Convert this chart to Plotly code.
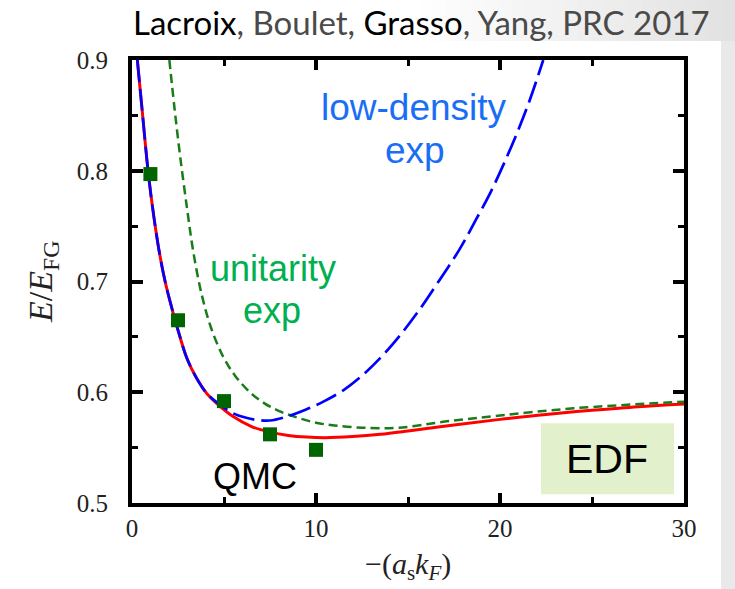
import plotly.graph_objects as go

# ---------------- data ----------------
qmc_x = [1.0, 2.5, 5.0, 7.5, 10.0]
qmc_y = [0.797, 0.665, 0.592, 0.562, 0.548]

edf_x = [0.29, 0.55, 0.89, 1.2, 1.5, 1.8, 2.1, 2.5, 3.0, 3.5, 4.06, 4.6, 5.5, 6.5, 7.5,
         8.5, 9.5, 10.5, 12.0, 13.5, 15.0, 17.5, 20.0, 22.5, 25.0, 27.5, 30.0]
edf_y = [0.900, 0.855, 0.797, 0.757, 0.725, 0.700, 0.680, 0.656, 0.630, 0.613, 0.599, 0.590,
         0.578, 0.569, 0.564, 0.561, 0.5595, 0.559, 0.560, 0.562, 0.565, 0.5705, 0.5755,
         0.580, 0.5837, 0.587, 0.5895]

low_x = [0.29, 0.55, 0.89, 1.2, 1.5, 1.8, 2.1, 2.5, 3.0, 3.5, 4.06, 4.6, 5.5, 6.2, 6.8,
         7.5, 8.4, 9.4, 10.4, 11.5, 12.5, 13.5, 14.5, 15.6, 16.7, 17.8, 18.7, 19.5, 20.2,
         20.9, 21.6, 22.35]
low_y = [0.900, 0.855, 0.797, 0.757, 0.725, 0.700, 0.680, 0.656, 0.630, 0.613, 0.599, 0.591,
         0.581, 0.577, 0.575, 0.5745, 0.578, 0.584, 0.5915, 0.602, 0.615, 0.631, 0.650,
         0.674, 0.701, 0.729, 0.756, 0.781, 0.806, 0.833, 0.863, 0.900]

uni_x = [2.03, 2.3, 2.61, 3.0, 3.33, 3.79, 4.3, 4.96, 5.6, 6.41, 7.2, 8.0, 9.0, 10.0, 11.0,
         12.5, 14.5, 17.0, 20.0, 24.0, 30.0]
uni_y = [0.900, 0.858, 0.814, 0.765, 0.727, 0.688, 0.658, 0.632, 0.615, 0.600, 0.590, 0.583,
         0.577, 0.5725, 0.570, 0.568, 0.568, 0.5735, 0.579, 0.5855, 0.5915]

x_ticks = [0, 10, 20, 30]
y_ticks = [0.5, 0.6, 0.7, 0.8, 0.9]
y_tick_labels = ["0.5", "0.6", "0.7", "0.8", "0.9"]

# ---------------- figure ----------------
fig = go.Figure()

fig.add_trace(go.Scatter(x=edf_x, y=edf_y, mode="lines",
                         line=dict(color="#ff0000", width=3, shape="spline", smoothing=1),
                         showlegend=False, hoverinfo="skip"))
fig.add_trace(go.Scatter(x=uni_x, y=uni_y, mode="lines",
                         line=dict(color="#187c18", width=2.5, dash="9px,5px",
                                   shape="spline", smoothing=1),
                         showlegend=False, hoverinfo="skip"))
fig.add_trace(go.Scatter(x=low_x, y=low_y, mode="lines",
                         line=dict(color="#0000ff", width=2.7, dash="22px,7px",
                                   shape="spline", smoothing=1),
                         showlegend=False, hoverinfo="skip"))
fig.add_trace(go.Scatter(x=qmc_x, y=qmc_y, mode="markers",
                         marker=dict(symbol="square", size=14, color="#006400",
                                     line=dict(width=0)),
                         showlegend=False, hoverinfo="skip"))

# plot-area geometry in pixels
L, R, T, B = 132, 684, 60, 503
W, H = R - L, B - T


def px(xp):
    return (xp - L) / W


def py(yp):
    return (B - yp) / H


shapes = []
# background: grey gradient on the top band and the right strip
n = 24
for i in range(n):
    x0 = 420 + (735 - 420) * i / n
    x1 = 420 + (735 - 420) * (i + 1) / n
    g = int(255 - (255 - 226) * (i + 0.5) / n)
    col = f"rgb({g},{g},{g})"
    shapes.append(dict(type="rect", xref="paper", yref="paper",
                       x0=px(x0), x1=px(x1) + 0.002, y0=py(41), y1=py(0),
                       fillcolor=col, line=dict(width=0), layer="below"))
shapes.append(dict(type="rect", xref="paper", yref="paper",
                   x0=px(721), x1=px(736), y0=py(590), y1=py(41),
                   fillcolor="#e9e9e9", line=dict(width=0), layer="below"))
# EDF box
shapes.append(dict(type="rect", xref="x", yref="y",
                   x0=22.23, x1=29.46, y0=0.5079, y1=0.572,
                   fillcolor="#e3f0cc", line=dict(width=0), layer="below"))

sans = "Liberation Sans, Arial, sans-serif"
serif = "Liberation Serif, DejaVu Serif, serif"
blue_txt = "#1a6ef5"
green_txt = "#00b050"


def ann(text, x, y, size, color, family=sans, ref="data", **kw):
    d = dict(text=text, x=x, y=y, showarrow=False, xanchor="center", yanchor="middle",
             font=dict(family=family, size=size, color=color))
    if ref == "data":
        d.update(xref="x", yref="y")
    else:
        d.update(xref="paper", yref="paper")
    d.update(kw)
    return d


annotations = [
    ann("low-density", 15.33, 0.857, 37, blue_txt),
    ann("exp", 15.4, 0.818, 37, blue_txt),
    ann("unitarity", 7.64, 0.712, 36, green_txt),
    ann("exp", 7.6, 0.6734, 36, green_txt),
    ann("QMC", 6.68, 0.5238, 36, "black"),
    ann("EDF", 25.84, 0.5397, 41, "black"),
    ann("<span style='color:#000000'>Lacroix</span>, Boulet, "
        "<span style='color:#000000'>Grasso</span>, Yang, PRC 2017",
        px(421.5), py(22), 33, "#4a4a4a",
        family="Lato, Liberation Sans, sans-serif", ref="paper"),
    ann("−(<i>a</i><sub>s</sub><i>k</i><sub><i>F</i></sub>)",
        px(408), py(566), 30, "#222222", family=serif, ref="paper"),
    ann("<i>E</i>/<i>E</i><sub>FG</sub>", px(43), py(282), 34, "#222222",
        family=serif, ref="paper", textangle=-90),
]

fig.update_layout(
    width=735, height=589,
    margin=dict(l=L, r=735 - R, t=T, b=589 - B),
    paper_bgcolor="white", plot_bgcolor="white",
    shapes=shapes, annotations=annotations,
    showlegend=False,
)

fig.update_xaxes(
    range=[0, 30], tickvals=x_ticks, ticktext=[str(v) for v in x_ticks],
    showgrid=False, zeroline=False,
    showline=True, linecolor="black", linewidth=4, mirror="ticks",
    ticks="inside", ticklen=10, tickwidth=4, tickcolor="black",
    minor=dict(dtick=5, tick0=0, ticks="inside", ticklen=6, tickwidth=3,
               tickcolor="black", showgrid=False),
    tickfont=dict(family=serif, size=25, color="#222222"),
    ticklabelstandoff=0,
)
fig.update_yaxes(
    range=[0.5, 0.9], tickvals=y_ticks, ticktext=y_tick_labels,
    showgrid=False, zeroline=False,
    showline=True, linecolor="black", linewidth=4, mirror="ticks",
    ticks="inside", ticklen=11, tickwidth=4, tickcolor="black",
    minor=dict(dtick=0.05, tick0=0.5, ticks="inside", ticklen=6, tickwidth=3,
               tickcolor="black", showgrid=False),
    tickfont=dict(family=serif, size=25, color="#222222"),
    ticklabelstandoff=15,
)

fig.write_html("out.html", config={"displayModeBar": False},
               post_script="document.body.style.margin='0';document.body.style.padding='0';")
